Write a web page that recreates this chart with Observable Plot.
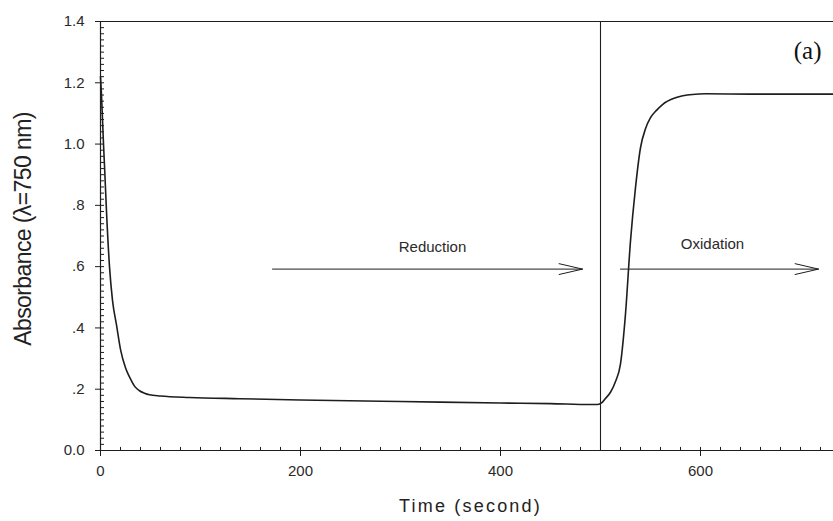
<!DOCTYPE html>
<html><head><meta charset="utf-8">
<script src="https://cdn.jsdelivr.net/npm/d3@7"></script>
<script src="https://cdn.jsdelivr.net/npm/@observablehq/plot@0.6"></script>
<style>body{margin:0;background:#fff}</style>
</head><body><div id="chart"></div>
<script>
const time = [0,1,2,3,4,6,9,12,16,20,25,29,34,39,44,49,60,89,139,200,300,400,450,490,497,501.7,505,510,515,520,525,530,535,540,545,550,556,562,575,592,605,650,700,733];
const absorbance = [1.22,1.16,1.08,1.0,0.93,0.78,0.6,0.49,0.41,0.33,0.27,0.24,0.21,0.195,0.187,0.182,0.178,0.173,0.169,0.165,0.16,0.155,0.153,0.150,0.150,0.157,0.17,0.19,0.225,0.283,0.446,0.684,0.858,0.988,1.05,1.086,1.11,1.129,1.151,1.162,1.164,1.163,1.163,1.163];

const xTicks = [0, 200, 400, 600];
const yTicks = [0, 0.2, 0.4, 0.6, 0.8, 1.0, 1.2, 1.4];
const yTickLabels = ["0.0", ".2", ".4", ".6", ".8", "1.0", "1.2", "1.4"];
const xMinor = d3.range(0, 734, 20);
const yMinor = d3.range(0, 1.401, 0.02);
const switchTime = [500];

const arrowStart = [172, 520];
const arrowEnd = [482, 718];
const arrowLevel = [0.592, 0.592];
const phaseNames = ["Reduction", "Oxidation"];
const phaseX = [332, 612];
const phaseY = [0.665, 0.673];

const panelLabel = "(a)";
const xLabel = "Time (second)";
const yLabel = "Absorbance (\u03bb=750 nm)";

const curve = time.map((t, i) => ({t, a: absorbance[i]}));
const arrows = arrowStart.map((s, i) => ({x1: s, x2: arrowEnd[i], y: arrowLevel[i]}));
const phases = phaseNames.map((n, i) => ({n, x: phaseX[i], y: phaseY[i]}));

const ink = "#1e1e1e";
const chart = Plot.plot({
  width: 833, height: 521,
  marginLeft: 100, marginRight: 0, marginTop: 21, marginBottom: 71,
  style: {fontFamily: "Liberation Sans, Arial, sans-serif", color: "#2a2a2a", background: "#fff"},
  x: {domain: [0, 733]},
  y: {domain: [0, 1.4]},
  marks: [
    Plot.ruleY([1.4], {stroke: ink, strokeWidth: 1.2}),
    Plot.ruleX([0], {stroke: ink, strokeWidth: 1.2}),
    Plot.ruleY([0], {stroke: ink, strokeWidth: 1.2}),
    Plot.ruleX(switchTime, {stroke: ink, strokeWidth: 1.1}),
    Plot.ruleY(yMinor, {x1: 0, x2: 4, stroke: ink, strokeWidth: 1}),
    Plot.ruleX(xMinor, {y1: 0, y2: 0.01, stroke: ink, strokeWidth: 1}),
    Plot.axisX({ticks: xTicks, tickSize: 6, tickPadding: 9, fontSize: 15, label: null, stroke: ink}),
    Plot.axisY({ticks: yTicks, tickFormat: d => yTickLabels[yTicks.findIndex(v => Math.abs(v - d) < 1e-9)], tickSize: 5, tickPadding: 11, fontSize: 15, label: null, stroke: ink}),
    Plot.line(curve, {x: "t", y: "a", stroke: ink, strokeWidth: 1.6, curve: "monotone-x"}),
    Plot.arrow(arrows, {x1: "x1", x2: "x2", y1: "y", y2: "y", stroke: ink, strokeWidth: 1, headLength: 36, headAngle: 26, bend: 0}),
    Plot.text(phases, {x: "x", y: "y", text: "n", fontSize: 15, fill: "#2a2a2a"}),
    Plot.text([panelLabel], {frameAnchor: "top-right", dx: -12, dy: 20, fontSize: 25, fontFamily: "Liberation Serif, Times New Roman, serif", fill: "#111"}),
    Plot.text([yLabel], {frameAnchor: "left", textAnchor: "middle", rotate: -90, dx: -77, dy: -7, fontSize: 23, fontFamily: "Liberation Sans Narrow, Arial Narrow, sans-serif", fill: "#222"}),
    Plot.text([xLabel], {frameAnchor: "bottom", x: 370, dy: 61, fontSize: 18, fill: "#222"})
  ]
});
d3.select(chart).selectAll("text").filter(function(){ return this.textContent === xLabel; }).style("letter-spacing", "2.2px");
d3.select(chart).selectAll("text").filter(function(){ return this.textContent === yLabel; }).style("letter-spacing", "-0.6px");
document.getElementById("chart").append(chart);
</script>
</body></html>
